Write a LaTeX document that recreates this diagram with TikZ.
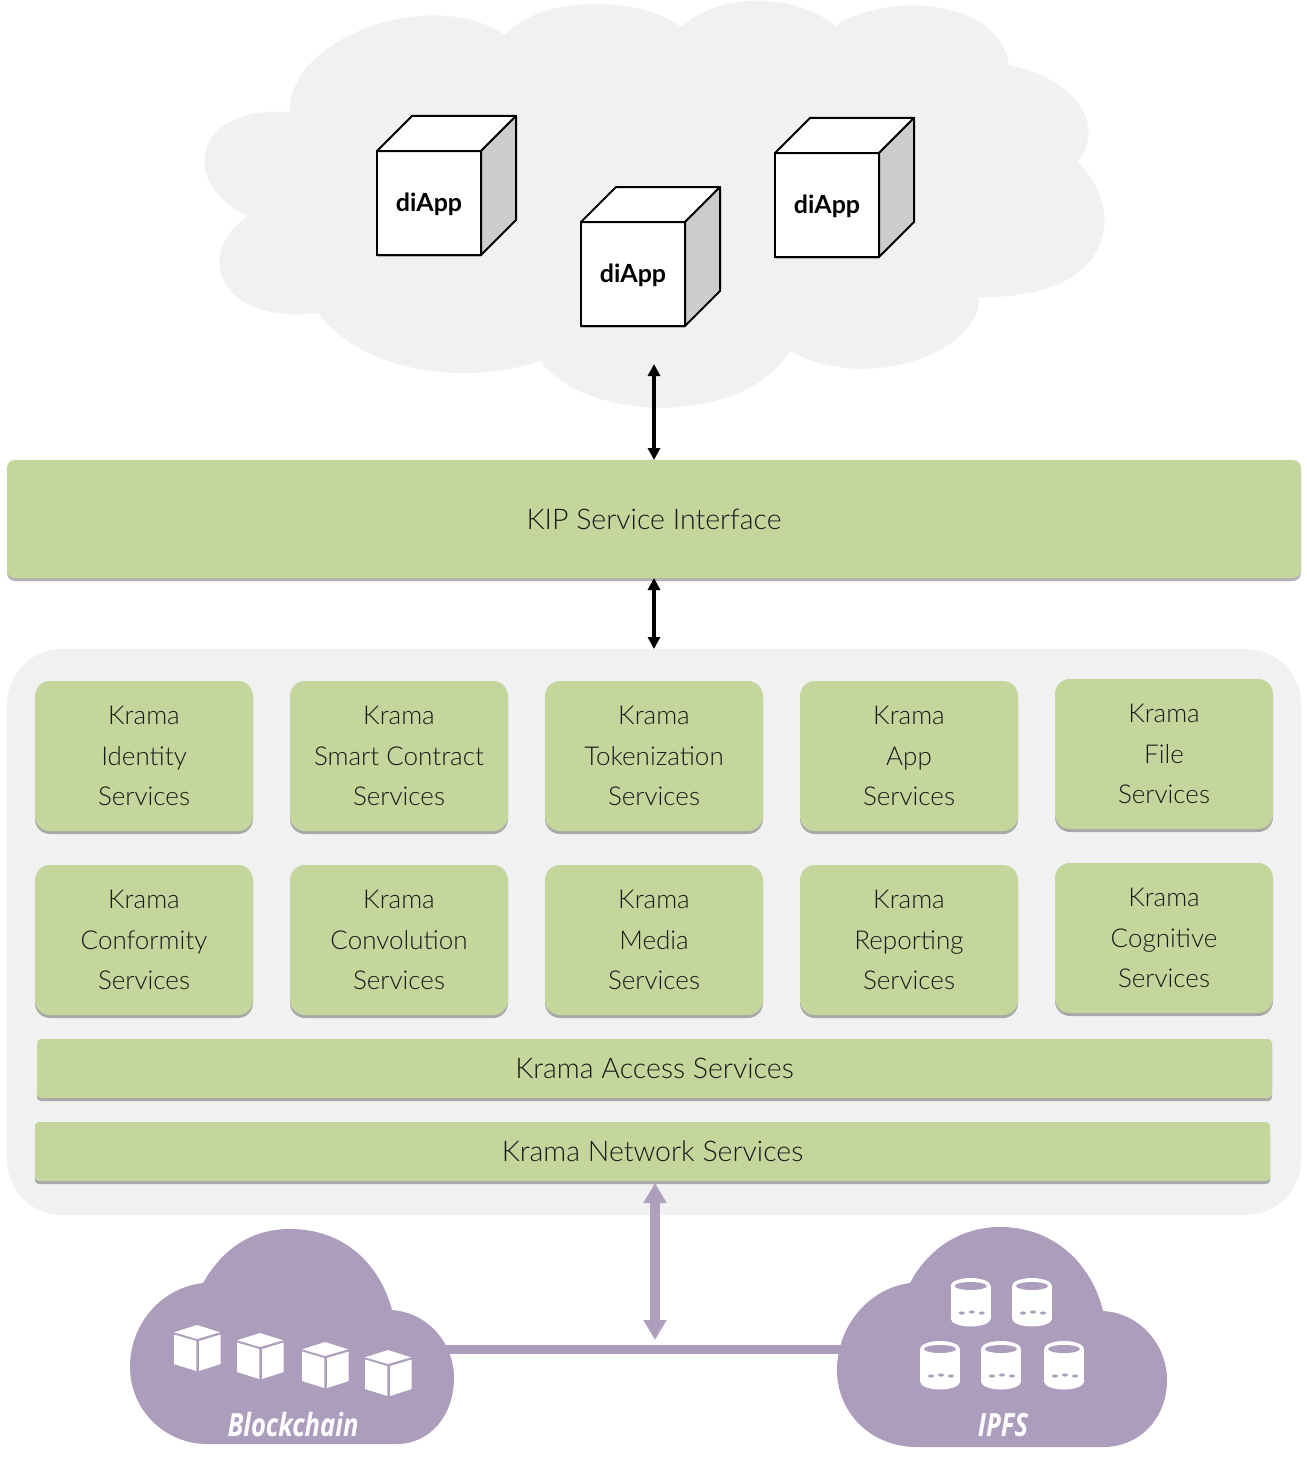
\documentclass[tikz,border=0pt]{standalone}
\usepackage{fontspec}
\usetikzlibrary{shadows,arrows.meta}
\setmainfont{Lato}[UprightFont=* Light,BoldFont=* Bold]
\newfontfamily\cloudfont[FakeStretch=0.8]{Open Sans}
\definecolor{krgreen}{HTML}{C4D69B}
\definecolor{krgrey}{HTML}{F1F1F1}
\definecolor{krpurple}{HTML}{AC9DBC}
\newcommand{\cf}{\fontsize{26}{40.5}\selectfont}
\newcommand{\cfbar}{\fontsize{28.5}{40}\selectfont}
\tikzset{
    bar/.style={fill=krgreen, inner sep=0pt, outer sep=0pt, align=center, text=black!90, font=\cfbar,
        drop shadow={shadow xshift=0pt, shadow yshift=-3pt, opacity=.3, fill=black}},
    kbox/.style={bar, font=\cf, rounded corners=15pt, minimum width=218pt, minimum height=150pt},
    lowbar/.style={bar, rounded corners=4pt, minimum width=1235pt, minimum height=59pt},
    cubefront/.style={draw, line width=2pt, fill=white, inner sep=0pt, outer sep=0pt, minimum size=104pt,
        text depth=2.5pt, font=\fontsize{25}{25}\selectfont\bfseries,
        drop shadow={shadow xshift=0pt, shadow yshift=-2pt, opacity=.25, fill=black}},
    cubeface/.style={draw, line width=2pt, line join=round},
    blk arrow/.style={line width=3.5pt, {Triangle[width=12pt,length=12pt]}-{Triangle[width=12pt,length=12pt]}},
    pur arrow/.style={line width=10pt, color=krpurple, {Triangle[width=22pt,length=20pt]}-{Triangle[width=22pt,length=20pt]}},
    cloudtext/.style={text=white, inner sep=0pt, font=\fontsize{32}{32}\cloudfont\bfseries\itshape},
    chainblock/.pic={
        \fill[white] (-23,7.3) -- (0,0) -- (23,7.3) -- (0,14) -- cycle;
        \fill[white] (-23,9.5) -- (-.7,16) -- (-.7,46) -- (-23,39) -- cycle;
        \fill[white] (2,16) -- (23.7,9.5) -- (23.7,39) -- (2,46) -- cycle;
    },
    store/.pic={
        \fill[white] (0,8) ellipse[x radius=20, y radius=8];
        \fill[white] (0,40.5) ellipse[x radius=20, y radius=8];
        \fill[white] (-20,8) rectangle (20,40.5);
        \fill[krpurple] (0,8) ellipse[x radius=16, y radius=4];
        \fill[krpurple] (-9,35) ellipse[x radius=3, y radius=1.6];
        \fill[krpurple] (1,34) ellipse[x radius=3, y radius=1.6];
        \fill[krpurple] (11,35) ellipse[x radius=3, y radius=1.6];
    },
}

\begin{document}
\begin{tikzpicture}[x=1pt, y=-1pt]
    \useasboundingbox (0,0) rectangle (1306,1477);

    % top cloud
    \fill[krgrey] (290,112) .. controls (287,38) and (432,-15) .. (505,35)
        .. controls (540,-5) and (640,-5) .. (681,27)
        .. controls (720,-8) and (795,-8) .. (835,26)
        .. controls (890,-10) and (1000,0) .. (1009,65)
        .. controls (1070,78) and (1108,120) .. (1078,162)
        .. controls (1130,215) and (1110,300) .. (979,297)
        .. controls (982,350) and (870,395) .. (790,351)
        .. controls (745,425) and (590,425) .. (540,361)
        .. controls (470,385) and (365,375) .. (318,313)
        .. controls (220,325) and (192,255) .. (248,216)
        .. controls (180,185) and (190,105) .. (290,112) -- cycle;

    % diApp cubes
    \node (appa) [cubefront] at (429,203) {diApp};
    \draw [cubeface, fill=white] (appa.north west) -- ++(35,-35) -- ++(104,0) -- (appa.north east) -- cycle;
    \draw [cubeface, fill=black!20] (appa.north east) -- ++(35,-35) -- ++(0,104) -- (appa.south east) -- cycle;
    \node (appb) [cubefront] at (633,274) {diApp};
    \draw [cubeface, fill=white] (appb.north west) -- ++(35,-35) -- ++(104,0) -- (appb.north east) -- cycle;
    \draw [cubeface, fill=black!20] (appb.north east) -- ++(35,-35) -- ++(0,104) -- (appb.south east) -- cycle;
    \node (appc) [cubefront] at (827,205) {diApp};
    \draw [cubeface, fill=white] (appc.north west) -- ++(35,-35) -- ++(104,0) -- (appc.north east) -- cycle;
    \draw [cubeface, fill=black!20] (appc.north east) -- ++(35,-35) -- ++(0,104) -- (appc.south east) -- cycle;

    % service interface
    \node (kip) [bar, rounded corners=8pt, minimum width=1294pt, minimum height=118pt] at (654,519) {KIP Service Interface};

    % krama panel
    \node (panel) [fill=krgrey, rounded corners=55pt, inner sep=0pt, outer sep=0pt, minimum width=1294pt, minimum height=566pt] at (654,932) {};

    \node (identity) [kbox] at (144,756) {Krama\\Identity\\Services};
    \node (contract) [kbox] at (399,756) {Krama\\Smart Contract\\Services};
    \node (token) [kbox] at (654,756) {Krama\\Tokenization\\Services};
    \node (app) [kbox] at (909,756) {Krama\\App\\Services};
    \node (file) [kbox] at (1164,754) {Krama\\File\\Services};

    \node (conform) [kbox] at (144,940) {Krama\\Conformity\\Services};
    \node (convol) [kbox] at (399,940) {Krama\\Convolution\\Services};
    \node (media) [kbox] at (654,940) {Krama\\Media\\Services};
    \node (report) [kbox] at (909,940) {Krama\\Reporting\\Services};
    \node (cognit) [kbox] at (1164,938) {Krama\\Cognitive\\Services};

    \node (access) [lowbar] at (654.5,1068.5) {Krama Access Services};
    \node (network) [lowbar] at (652.5,1151.5) {Krama Network Services};

    % arrows
    \coordinate (cloudend) at (654,364);
    \coordinate (kiptop) at (654,460);
    \draw [blk arrow] (cloudend) -- (kiptop);
    \draw [blk arrow] (kip.south) -- (panel.north);

    \coordinate (netend) at (655,1183);
    \coordinate (linkend) at (655,1340);
    \coordinate (chainedge) at (440,1349);
    \coordinate (ipfsedge) at (850,1349);
    \draw [line width=9pt, krpurple] (chainedge) -- (ipfsedge);
    \draw [pur arrow, opacity=.95] (netend) -- (linkend);

    % blockchain cloud
    \fill[krpurple] (203,1283) .. controls (225,1245) and (255,1229) .. (290,1229)
        .. controls (345,1229) and (380,1265) .. (392,1310)
        .. controls (430,1313) and (454,1345) .. (454,1378)
        .. controls (454,1415) and (430,1444) .. (397,1444)
        -- (207,1444)
        .. controls (165,1444) and (130,1410) .. (130,1367)
        .. controls (130,1325) and (160,1288) .. (203,1283) -- cycle;
    \pic at (197,1325) {chainblock};
    \pic at (260,1333) {chainblock};
    \pic at (325,1342) {chainblock};
    \pic at (388,1350) {chainblock};
    \node (chain) [cloudtext] at (293,1424) {Blockchain};

    % ipfs cloud
    \fill[krpurple] (910,1283) .. controls (930,1245) and (965,1227) .. (1000,1227)
        .. controls (1055,1227) and (1092,1265) .. (1103,1311)
        .. controls (1140,1313) and (1167,1345) .. (1167,1380)
        .. controls (1167,1418) and (1140,1447) .. (1103,1447)
        -- (917,1447)
        .. controls (870,1447) and (837,1412) .. (837,1370)
        .. controls (837,1325) and (870,1288) .. (910,1283) -- cycle;
    \pic at (970.7,1278) {store};
    \pic at (1032,1278) {store};
    \pic at (940,1341) {store};
    \pic at (1001,1341) {store};
    \pic at (1064,1341) {store};
    \node (ipfs) [cloudtext] at (1003,1425) {IPFS};
\end{tikzpicture}
\end{document}
